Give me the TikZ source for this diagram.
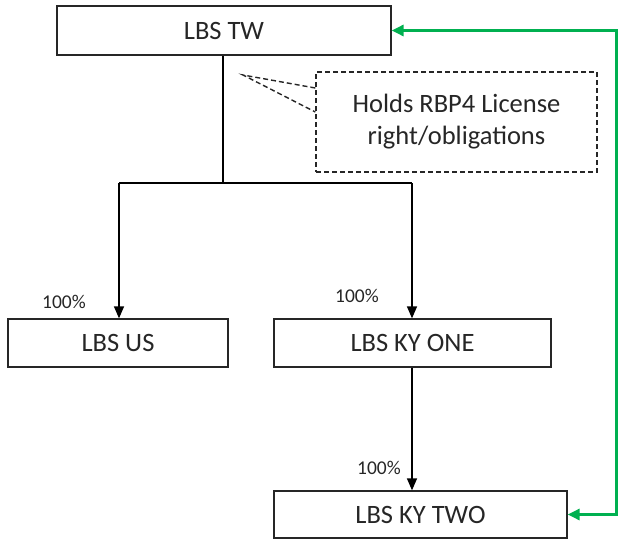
\documentclass[tikz,border=0pt]{standalone}
\usepackage{fontspec}
\setmainfont{Carlito}
\usetikzlibrary{arrows.meta}
\definecolor{offgreen}{RGB}{0,176,80}
\begin{document}
\begin{tikzpicture}[x=1pt,y=-1pt,
  entity/.style={draw=black!85, line width=1.3pt, minimum height=48pt, inner sep=0pt, font=\fontsize{26.5}{30}\selectfont, text=black!85},
  pct/.style={font=\fontsize{19.5}{22}\selectfont, text=black!85, inner sep=0pt},
  link/.style={draw=black, line width=1.4pt},
  arr/.style={link, -{Triangle[length=12pt,width=10pt]}},
  greenarr/.style={draw=offgreen, line width=3pt, {Triangle[length=12pt,width=11pt]}-{Triangle[length=12pt,width=11pt]}},
  dashline/.style={draw=black!85, dashed, dash pattern=on 5pt off 3pt, line width=1.4pt},
  notebox/.style={dashline, minimum width=281pt, minimum height=100pt, align=center, font=\fontsize{26.5}{32}\selectfont, text=black!85, inner sep=0pt}
]
\useasboundingbox (0,0) rectangle (619,541);
\node[entity, minimum width=334pt, minimum height=49pt] (tw) at (224,30.5) {LBS TW};
\node[entity, minimum width=220pt] (us) at (118,343) {LBS US};
\node[entity, minimum width=277pt] (one) at (412.5,343) {LBS KY ONE};
\node[entity, minimum width=293pt, minimum height=47pt] (two) at (420.5,514.5) {LBS KY TWO};
\node[notebox] (note) at (456.5,122) {Holds RBP4 License\\right/obligations};
\coordinate (j) at (223,183);
\coordinate (jl) at (119,183);
\coordinate (jr) at (412,183);
\coordinate (tip) at (243,75);
\coordinate (gc) at (616,0);
\draw[link] (tw.south -| j) -- (j);
\draw[link] (jl) -- (jr);
\draw[arr] (jl) -- (jl |- us.north);
\draw[arr] (jr) -- (jr |- one.north);
\draw[arr] (jr |- one.south) -- (jr |- two.north);
\draw[greenarr] (two.east) -- (two.east -| gc) |- (tw.east);
\draw[dashline] (note.west |- 0,88) -- (tip) -- (note.west |- 0,112);
\node[pct] (p1) at (64,302) {100\%};
\node[pct] (p2) at (357,296) {100\%};
\node[pct] (p3) at (379,468) {100\%};
\end{tikzpicture}
\end{document}
